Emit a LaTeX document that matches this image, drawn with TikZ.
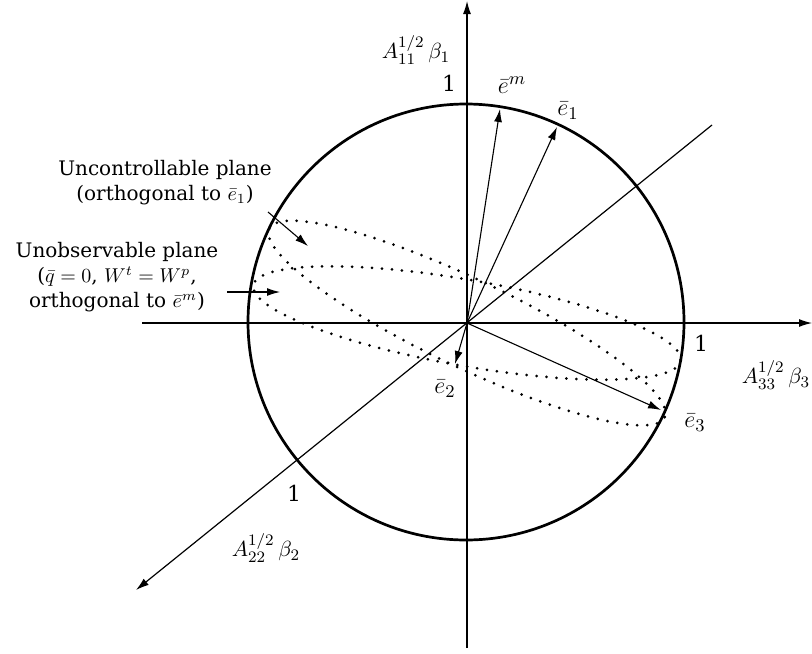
\documentclass[tikz,border=0pt]{standalone}
\usepackage{fontspec}
\setmainfont{DejaVu Serif}
\usetikzlibrary{arrows.meta}
\begin{document}
\begin{tikzpicture}[x=0.5pt,y=-0.5pt,
  axis/.style={line width=0.6pt,-{Latex[length=6.5pt,width=4pt]}},
  vec/.style={line width=0.55pt,-{Latex[length=6.5pt,width=4pt]}},
  rim/.style={line width=1.35pt},
  dots/.style={line width=1.5pt,line cap=round,dash pattern=on 0pt off 5pt},
  lbl/.style={inner sep=0pt,font=\fontsize{11}{13}\selectfont},
  vlbl/.style={inner sep=0pt,font=\fontsize{12.5}{14}\selectfont},
  txt/.style={inner sep=0pt,align=center,font=\fontsize{10}{12.5}\selectfont}]
\useasboundingbox (0,0) rectangle (812,653);
% axes
\coordinate (O) at (467,323);
\coordinate (ytop) at (467,1);
\coordinate (ybot) at (467,648);
\coordinate (xleft) at (142,323);
\coordinate (xright) at (812,323);
\coordinate (dtr) at (712,125);
\coordinate (dbl) at (136,590);
\draw[axis] (ybot) -- (ytop);
\draw[axis] (xleft) -- (xright);
\draw[axis] (dtr) -- (dbl);
% unit sphere outline
\draw[rim] (466,322) circle [radius=218];
% planes
\draw[dots, shift={(467,323)}, rotate=-25.5] (0,0) ellipse [x radius=219, y radius=44];
\draw[dots, shift={(467,323)}, rotate=-10] (0,0) ellipse [x radius=217, y radius=43];
% vectors
\coordinate (em) at (500,109);
\coordinate (e1) at (557,127);
\coordinate (e2) at (455,364);
\coordinate (e3) at (661,410);
\draw[vec] (O) -- (em);
\draw[vec] (O) -- (e1);
\draw[vec] (O) -- (e2);
\draw[vec] (O) -- (e3);
% labels
\node[vlbl] (lem) at (512,85) {$\bar{e}^{m}$};
\node[vlbl] (le1) at (568,111) {$\bar{e}_{1}$};
\node[vlbl] (le2) at (445,389) {$\bar{e}_{2}$};
\node[vlbl] (le3) at (695,423) {$\bar{e}_{3}$};
\node[lbl] (one1) at (449,83) {1};
\node[lbl] (one3) at (701,343) {1};
\node[lbl] (one2) at (294,493) {1};
\node[lbl] (a1) at (416,50) {$A_{11}^{1/2}\,\beta_1$};
\node[lbl] (a3) at (776,375) {$A_{33}^{1/2}\,\beta_3$};
\node[lbl] (a2) at (266,548) {$A_{22}^{1/2}\,\beta_2$};
% plane labels
\node[txt] (unc) at (165,183) {Uncontrollable plane\\(orthogonal to $\bar{e}_{1}$)};
\node[txt] (uno) at (117,277) {Unobservable plane\\($\bar{q}=0$,~$W^{t} = W^{p}$,\\orthogonal to $\bar{e}^{m}$)};
\coordinate (ua0) at (268,212);
\coordinate (ua1) at (308,246);
\coordinate (oa0) at (227,292);
\coordinate (oa1) at (280,292);
\draw[vec] (ua0) -- (ua1);
\draw[vec] (oa0) -- (oa1);
\end{tikzpicture}
\end{document}
